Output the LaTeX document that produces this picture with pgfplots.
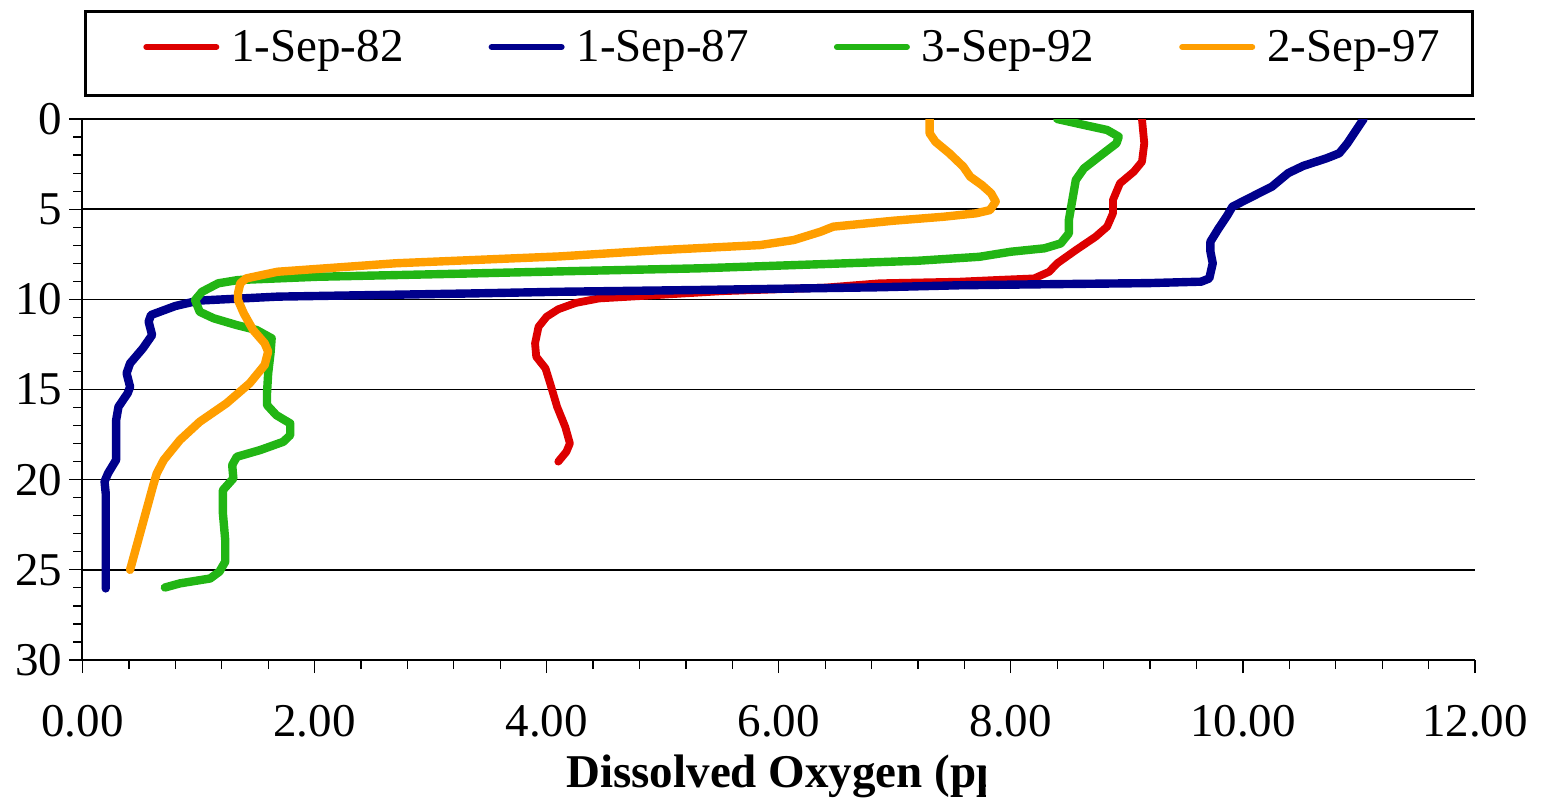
\documentclass[border=0pt]{standalone}
\usepackage{pgfplots}
\pgfplotsset{compat=1.18}
\usepackage{fontspec}
\setmainfont{Liberation Serif}
\definecolor{cred}{RGB}{221,0,0}
\definecolor{cblue}{RGB}{0,0,140}
\definecolor{cgreen}{RGB}{34,181,20}
\definecolor{corange}{RGB}{255,158,0}
\newcommand{\bigf}{\fontsize{23.5}{28}\selectfont}
\begin{document}
\begin{tikzpicture}
\useasboundingbox (0,0) rectangle (776pt,399pt);
\begin{axis}[
  at={(41.25pt,69pt)}, anchor=south west,
  scale only axis, width=696.25pt, height=270.5pt,
  xmin=0, xmax=12, ymin=0, ymax=30, y dir=reverse,
  axis x line=bottom, axis y line=left,
  axis line style={-, line width=1pt, black},
  xtick={0,2,4,6,8,10,12},
  xticklabels={0.00,2.00,4.00,6.00,8.00,10.00,12.00},
  ytick={0,5,10,15,20,25,30},
  yticklabels={0,5,10,15,20,25,30},
  minor x tick num=4, minor y tick num=4,
  tick align=outside, major tick length=6.5pt, minor tick length=4.5pt,
  tick style={black, line width=0.6pt},
  ymajorgrids, grid style={black, line width=0.75pt},
  ticklabel style={font=\bigf},
  xticklabel style={yshift=-12.5pt},
  legend columns=4,
  legend image code/.code={\draw[#1,line width=3pt,line cap=round] (2pt,0pt) -- (37pt,0pt);},
  legend style={at={(0.0434,1.1331)}, anchor=west, draw=none, fill=none,
    inner sep=0pt, font=\bigf, nodes={inner sep=0pt},
    /tikz/every odd column/.append style={column sep=6pt},
    /tikz/every even column/.append style={column sep=42.5pt}},
  every axis plot/.append style={line width=4.2pt, line join=round, line cap=round},
]
\addplot[cred, line width=3.9pt] table {
x y
9.13 0
9.15 1.35
9.13 2.37
9.06 2.92
8.94 3.57
8.88 4.49
8.88 5.23
8.83 5.97
8.73 6.53
8.56 7.27
8.40 8.00
8.33 8.47
8.20 8.84
7.87 8.93
7.56 9.02
6.87 9.11
6.40 9.35
5.50 9.55
4.80 9.82
4.45 9.95
4.25 10.20
4.10 10.55
4.00 10.96
3.93 11.52
3.90 12.44
3.91 13.18
3.99 13.83
4.03 14.66
4.09 15.96
4.16 17.07
4.20 17.99
4.17 18.45
4.10 19.00
};
\addlegendentry{1-Sep-82}
\addplot[cblue] table {
x y
11.04 0
10.90 1.35
10.83 1.90
10.72 2.18
10.52 2.60
10.39 3.00
10.25 3.75
10.05 4.40
9.91 4.86
9.86 5.40
9.79 6.07
9.72 6.80
9.72 7.36
9.74 8.00
9.71 8.84
9.64 9.02
9.19 9.10
8.20 9.17
7.56 9.22
6.87 9.33
5.32 9.48
4.11 9.58
3.38 9.67
1.68 9.85
1.00 10.07
0.80 10.37
0.59 10.87
0.57 11.24
0.60 11.98
0.52 12.72
0.41 13.55
0.38 14.10
0.41 14.85
0.39 15.20
0.31 15.96
0.29 16.70
0.29 18.17
0.29 18.90
0.22 19.65
0.19 20.10
0.20 20.75
0.20 26.03
};
\addlegendentry{1-Sep-87}
\addplot[cgreen] table {
x y
8.40 0
8.63 0.33
8.83 0.61
8.93 0.98
8.91 1.35
8.76 2.09
8.63 2.74
8.56 3.38
8.53 4.49
8.50 5.60
8.50 6.34
8.43 6.90
8.29 7.17
8.00 7.36
7.73 7.64
7.20 7.86
6.41 8.04
5.32 8.28
4.11 8.45
3.38 8.56
2.02 8.75
1.34 8.93
1.17 9.11
1.03 9.58
0.97 10.04
1.01 10.69
1.13 11.05
1.33 11.43
1.50 11.70
1.63 12.16
1.62 13.00
1.60 14.10
1.59 15.20
1.59 15.86
1.67 16.42
1.79 16.88
1.79 17.53
1.73 17.90
1.53 18.36
1.33 18.73
1.29 19.19
1.30 19.93
1.21 20.58
1.21 21.87
1.23 23.35
1.23 24.55
1.18 25.10
1.10 25.48
0.84 25.75
0.71 25.98
};
\addlegendentry{3-Sep-92}
\addplot[corange] table {
x y
7.30 0
7.30 0.79
7.35 1.26
7.47 1.90
7.59 2.64
7.65 3.20
7.75 3.66
7.83 4.12
7.87 4.58
7.82 5.05
7.70 5.23
7.42 5.42
6.99 5.64
6.47 5.97
6.36 6.25
6.13 6.71
5.84 6.99
4.98 7.27
4.11 7.62
2.70 8.00
1.68 8.47
1.41 8.84
1.36 9.11
1.34 9.67
1.34 10.04
1.39 10.78
1.47 11.70
1.57 12.44
1.60 12.90
1.57 13.64
1.44 14.66
1.24 15.77
1.01 16.79
0.84 17.80
0.70 18.91
0.64 19.65
0.61 20.30
0.41 25.00
};
\addlegendentry{2-Sep-97}
\end{axis}
\draw[line width=1.5pt] (42.75pt,393.25pt) rectangle (736.25pt,351.25pt);
\begin{scope}
\clip (0,0) rectangle (492.5pt,30pt);
\node[anchor=base west, inner sep=0pt, font=\bigf\bfseries] at (283pt,5.5pt) {Dissolved Oxygen (pp};
\end{scope}
\end{tikzpicture}
\end{document}
